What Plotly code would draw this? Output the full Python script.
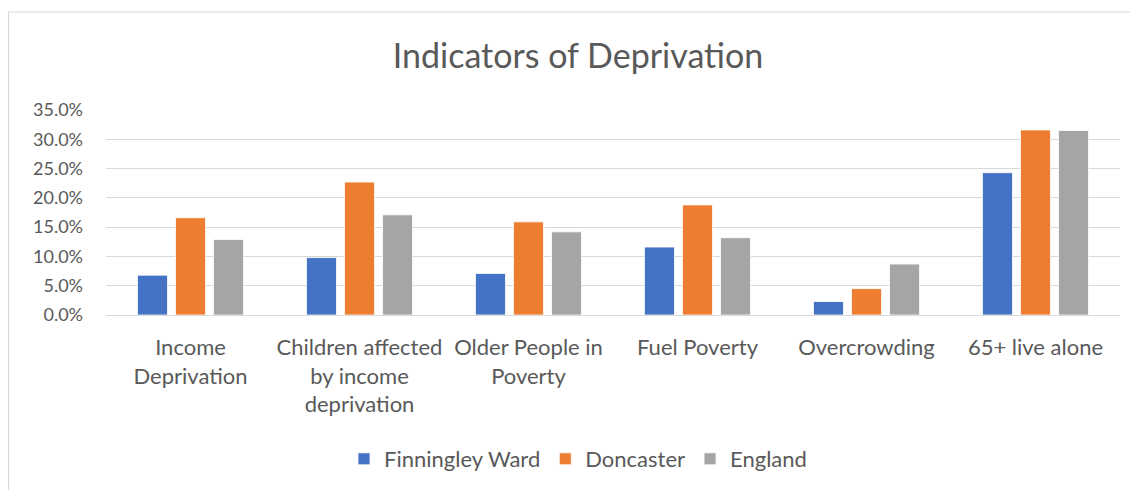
import plotly.graph_objects as go

categories = [
    "Income<br>Deprivation",
    "Children affected<br>by income<br>deprivation",
    "Older People in<br>Poverty",
    "Fuel Poverty",
    "Overcrowding",
    "65+ live alone",
]
finningley = [6.8, 9.8, 7.1, 11.6, 2.3, 24.3]
doncaster = [16.6, 22.7, 15.9, 18.8, 4.5, 31.6]
england = [12.9, 17.1, 14.2, 13.2, 8.7, 31.5]
y_ticks = [0, 5, 10, 15, 20, 25, 30, 35]
y_ticktext = ["0.0%", "5.0%", "10.0%", "15.0%", "20.0%", "25.0%", "30.0%", "35.0%"]

series = [
    ("Finningley Ward", finningley, "#4472C4"),
    ("Doncaster", doncaster, "#ED7D31"),
    ("England", england, "#A5A5A5"),
]

FONT = "Lato"
TXT = "#595959"
OFF = 8  # page body margin

fig = go.Figure()
for name, vals, col in series:
    fig.add_trace(go.Bar(
        x=categories, y=vals, name=name,
        marker=dict(color=col, line=dict(color="white", width=0.8)),
    ))

W, H = 1138 - OFF, 490 - OFF
# plot area in page pixels: x 106..1120, y 110..316
L = 106 - OFF
R = (1138 - 1120)
T = 110 - OFF
B = 490 - 316
pw, ph = W - L - R, H - T - B

def px2x(px):
    return (px - OFF - L) / pw

def py2y(py):
    return (H - B - (py - OFF)) / ph

fig.update_layout(
    width=W, height=H,
    margin=dict(l=L, r=R, t=T, b=B),
    paper_bgcolor="white", plot_bgcolor="white",
    font=dict(family=FONT, color=TXT, size=18),
    title=dict(text="Indicators of Deprivation", x=(578 - OFF) / W,
               xanchor="center", y=1 - (56 - OFF) / H, yanchor="middle",
               font=dict(size=34, color=TXT, family=FONT)),
    barmode="group", bargap=0.325, bargroupgap=0.21,
    showlegend=True,
    legend=dict(orientation="h", x=px2x(578), xanchor="center",
                y=py2y(459), yanchor="middle",
                font=dict(size=22, color=TXT, family=FONT),
                itemwidth=30, traceorder="normal"),
    xaxis=dict(showline=False, ticks="", tickfont=dict(size=22, color=TXT),
               ticklabelstandoff=17),
    yaxis=dict(range=[0, 35], tickvals=y_ticks, ticktext=y_ticktext,
               showgrid=True, gridcolor="#D9D9D9", gridwidth=1.3,
               zeroline=True, zerolinecolor="#D9D9D9", zerolinewidth=1.3,
               showline=False, ticks="", ticklabelstandoff=22,
               tickfont=dict(size=18, color=TXT)),
    shapes=[dict(type="rect", xref="paper", yref="paper",
                 x0=px2x(8.6), x1=px2x(1150), y0=py2y(500), y1=py2y(11.5),
                 line=dict(color="#D9D9D9", width=1.2), fillcolor="rgba(0,0,0,0)",
                 layer="below")],
)

fig.write_html("out.html")
